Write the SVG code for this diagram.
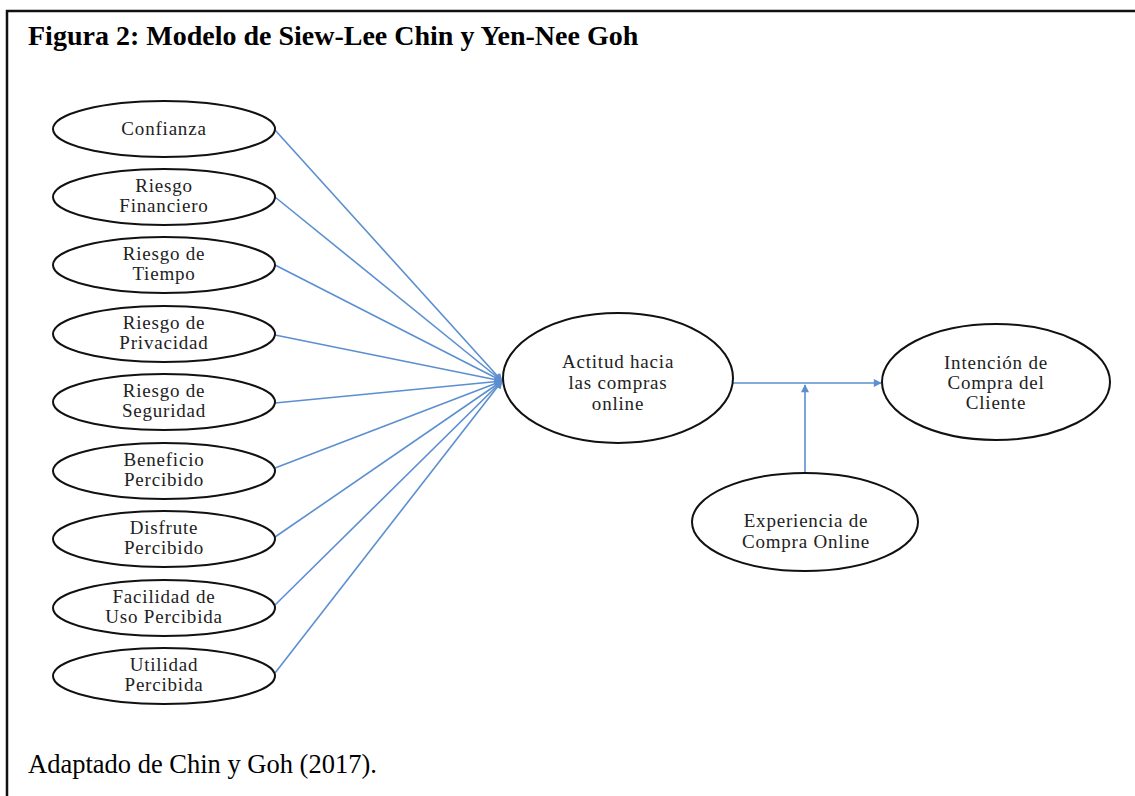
<svg xmlns="http://www.w3.org/2000/svg" width="1135" height="796" viewBox="0 0 1135 796">
  <style>
    .node ellipse { fill: #ffffff; stroke: #111111; stroke-width: 2; }
    .node text { font-family: "Liberation Serif", "Times New Roman", serif; font-size: 19px; fill: #222222; text-anchor: middle; letter-spacing: 0.8px; }
    .edge { stroke: #5b8fd0; stroke-width: 1.6; fill: none; marker-end: url(#arrow); }
    .title { font-family: "Liberation Serif", "Times New Roman", serif; font-weight: bold; font-size: 28px; fill: #000000; }
    .caption { font-family: "Liberation Serif", "Times New Roman", serif; font-size: 26.5px; fill: #000000; }
  </style>
  <defs>
    <marker id="arrow" viewBox="0 0 10 10" refX="9" refY="5" markerWidth="6" markerHeight="5" orient="auto" markerUnits="strokeWidth">
      <path d="M0,0 L10,5 L0,10 z" fill="#5b8fd0"/>
    </marker>
  </defs>

  <rect x="0" y="0" width="1135" height="796" fill="#ffffff"/>

  <!-- frame -->
  <path d="M7,800 L7,11 L1135,11" fill="none" stroke="#111111" stroke-width="2.5"/>

  <text class="title" x="28" y="45">Figura 2: Modelo de Siew-Lee Chin y Yen-Nee Goh</text>

  <!-- connectors -->
  <g id="connectors">
    <line class="edge" x1="275" y1="130" x2="502" y2="381"/>
    <line class="edge" x1="275" y1="197" x2="502" y2="381"/>
    <line class="edge" x1="275" y1="265" x2="502" y2="381"/>
    <line class="edge" x1="275" y1="335" x2="502" y2="381"/>
    <line class="edge" x1="275" y1="403" x2="502" y2="381"/>
    <line class="edge" x1="275" y1="468" x2="502" y2="381"/>
    <line class="edge" x1="275" y1="537" x2="502" y2="381"/>
    <line class="edge" x1="275" y1="605" x2="502" y2="381"/>
    <line class="edge" x1="275" y1="673" x2="502" y2="381"/>
    <line class="edge" x1="733" y1="383" x2="881" y2="383"/>
    <line class="edge" x1="805" y1="473" x2="805" y2="385"/>
  </g>

  <!-- left-hand factors -->
  <g id="confianza" class="node">
    <ellipse cx="164" cy="129" rx="111" ry="28"/>
    <text x="164" y="135">Confianza</text>
  </g>
  <g id="riesgo-financiero" class="node">
    <ellipse cx="164" cy="197" rx="111" ry="28"/>
    <text x="164" y="192">Riesgo</text>
    <text x="164" y="212">Financiero</text>
  </g>
  <g id="riesgo-tiempo" class="node">
    <ellipse cx="164" cy="265" rx="111" ry="28"/>
    <text x="164" y="260">Riesgo de</text>
    <text x="164" y="280">Tiempo</text>
  </g>
  <g id="riesgo-privacidad" class="node">
    <ellipse cx="164" cy="334" rx="111" ry="28"/>
    <text x="164" y="329">Riesgo de</text>
    <text x="164" y="349">Privacidad</text>
  </g>
  <g id="riesgo-seguridad" class="node">
    <ellipse cx="164" cy="402" rx="111" ry="28"/>
    <text x="164" y="397">Riesgo de</text>
    <text x="164" y="417">Seguridad</text>
  </g>
  <g id="beneficio-percibido" class="node">
    <ellipse cx="164" cy="471" rx="111" ry="28"/>
    <text x="164" y="466">Beneficio</text>
    <text x="164" y="486">Percibido</text>
  </g>
  <g id="disfrute-percibido" class="node">
    <ellipse cx="164" cy="539" rx="111" ry="28"/>
    <text x="164" y="534">Disfrute</text>
    <text x="164" y="554">Percibido</text>
  </g>
  <g id="facilidad-uso" class="node">
    <ellipse cx="164" cy="608" rx="111" ry="28"/>
    <text x="164" y="603">Facilidad de</text>
    <text x="164" y="623">Uso Percibida</text>
  </g>
  <g id="utilidad-percibida" class="node">
    <ellipse cx="164" cy="676" rx="111" ry="28"/>
    <text x="164" y="671">Utilidad</text>
    <text x="164" y="691">Percibida</text>
  </g>

  <!-- central construct -->
  <g id="actitud" class="node">
    <ellipse cx="618" cy="378" rx="115" ry="65"/>
    <text x="618" y="368">Actitud hacia</text>
    <text x="618" y="389">las compras</text>
    <text x="618" y="410">online</text>
  </g>

  <g id="intencion" class="node">
    <ellipse cx="996" cy="382" rx="114" ry="58"/>
    <text x="996" y="369">Intención de</text>
    <text x="996" y="389">Compra del</text>
    <text x="996" y="409">Cliente</text>
  </g>

  <g id="experiencia" class="node">
    <ellipse cx="805" cy="522" rx="113" ry="49"/>
    <text x="806" y="527">Experiencia de</text>
    <text x="806" y="548">Compra Online</text>
  </g>

  <text class="caption" x="28" y="773">Adaptado de Chin y Goh (2017).</text>
</svg>
